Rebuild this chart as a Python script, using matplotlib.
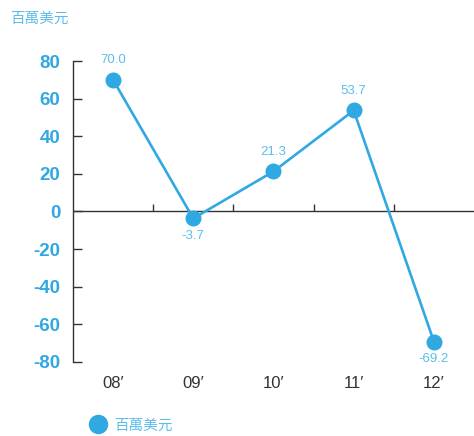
import matplotlib
matplotlib.use("Agg")
import matplotlib.pyplot as plt
import numpy as np

plt.rcParams['font.family'] = ['Liberation Sans', 'Noto Sans CJK TC', 'DejaVu Sans']

categories = ["08\u2032", "09\u2032", "10\u2032", "11\u2032", "12\u2032"]
values = [70.0, -3.7, 21.3, 53.7, -69.2]
label_pos = ["above", "below", "above", "above", "below"]
yticks = [80, 60, 40, 20, 0, -20, -40, -60, -80]
unit = "百萬美元"

blue = "#30a8e2"
light_blue = "#5cbde9"
dark = "#333333"
cjk = ['Noto Sans CJK TC', 'DejaVu Sans']

fig = plt.figure(figsize=(4.74, 4.36), dpi=100)
ax = fig.add_axes([0.154, 0.170, 0.846, 0.690])

x = np.arange(len(categories))
ax.plot(x, values, color=blue, lw=1.9, marker="o", ms=10.5, zorder=3, label=unit)

for xi, v, p in zip(x, values, label_pos):
    if p == "above":
        ax.annotate(f"{v:.1f}", (xi, v), xytext=(0, 10), textcoords="offset points",
                    ha="center", va="bottom", fontsize=9.5, color=light_blue)
    else:
        ax.annotate(f"{v:.1f}", (xi, v), xytext=(0, -8), textcoords="offset points",
                    ha="center", va="top", fontsize=9.5, color=light_blue)

ax.set_xlim(-0.5, len(categories) - 0.5)
ax.set_ylim(-80, 80)

ax.axhline(0, color=dark, lw=1.0, zorder=1)
bounds = x[:-1] + 0.5
ax.vlines(bounds, 0, 4, color=dark, lw=1.0, zorder=1)

for s in ["top", "right", "bottom"]:
    ax.spines[s].set_visible(False)
ax.spines["left"].set_color(dark)
ax.spines["left"].set_linewidth(1.0)

ax.set_yticks(yticks)
ax.set_yticklabels([str(t) for t in yticks])
ax.tick_params(axis="y", direction="in", length=6.5, width=1.0, color=dark,
               labelcolor=blue, labelsize=13.5, pad=9)
for lab in ax.get_yticklabels():
    lab.set_fontweight("bold")

ax.set_xticks(x)
ax.set_xticklabels(categories)
ax.tick_params(axis="x", length=0, labelsize=12, labelcolor=dark, pad=10)

fig.text(0.021, 0.958, unit, color=light_blue, fontsize=10.5, ha="left", va="center",
         family=cjk)

leg = fig.legend(loc="center left", bbox_to_anchor=(0.182, 0.024), frameon=False,
                 prop={'family': cjk, 'size': 10.5}, handlelength=0.8,
                 handletextpad=0.7, borderaxespad=0)
for t in leg.get_texts():
    t.set_color(light_blue)
for h in leg.legend_handles:
    h.set_linestyle("none")
    h.set_markersize(13)

fig.savefig("out.png", dpi=100)
